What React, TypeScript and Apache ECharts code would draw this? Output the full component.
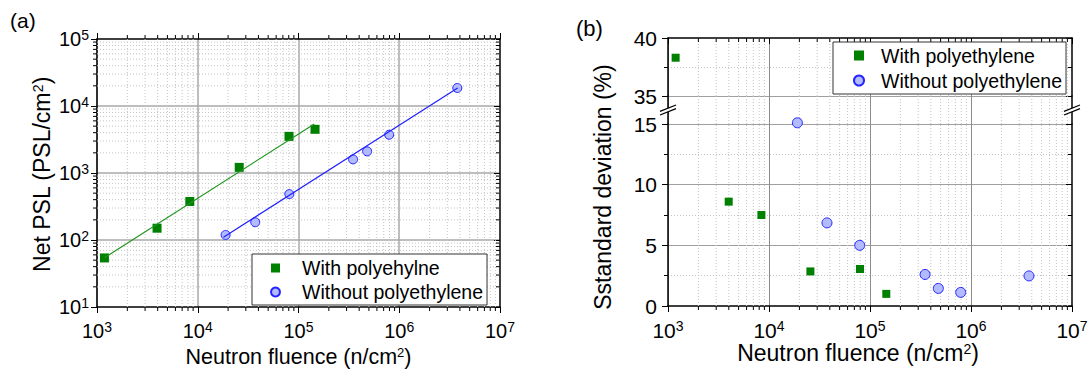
import React, { useEffect, useRef } from 'react';
import * as echarts from 'echarts';

const FONT = '"Liberation Sans", Arial, Helvetica, sans-serif';

// ---------------- Panel (a): Net PSL vs neutron fluence ----------------
const withPolyFluence = [1185, 3945, 8340, 25800, 80500, 145900];
const withPolyPSL = [54, 150, 376, 1213, 3524, 4488];
const withoutPolyFluence = [18900, 37200, 81100, 348000, 480000, 794000, 3770000];
const withoutPolyPSL = [119, 184, 484, 1596, 2104, 3724, 18580];
// fitted lines (end points)
const fitWithFluence = [1185, 143500];
const fitWithPSL = [54.3, 5400];
const fitWithoutFluence = [18000, 3800000];
const fitWithoutPSL = [110, 18600];

// ---------------- Panel (b): standard deviation ----------------
const sdWithFluence = [1190, 3990, 8410, 25700, 79600, 145000];
const sdWith = [38.3, 8.6, 7.5, 2.85, 3.05, 1.0];
const sdWithoutFluence = [19100, 37500, 79100, 351000, 475000, 791000, 3750000];
const sdWithout = [15.1, 6.85, 5.0, 2.6, 1.45, 1.12, 2.48];

// ---------------- axes ----------------
const fluenceRange = [1e3, 1e7];
const pslRange = [10, 1e5];
const sdUpperRange = [35, 40];
const sdLowerRange = [0, 15];
const sdInterval = 5;
const minorMultipliers = [2, 3, 4, 5, 6, 7, 8, 9];

const legendA = ['With polyehylne', 'Without polyethylene'];
const legendB = ['With polyethylene', 'Without polyethylene'];

function zip(xs: number[], ys: number[]) {
  return xs.map((x, i) => [x, ys[i]]);
}

function logMinors(range: number[]) {
  const out: number[] = [];
  const e0 = Math.round(Math.log10(range[0]));
  const e1 = Math.round(Math.log10(range[1]));
  for (let e = e0; e < e1; e++) for (const m of minorMultipliers) out.push(m * Math.pow(10, e));
  return out;
}

const powLabel = (v: number) => `{b|10}{s|${Math.round(Math.log10(v))}}`;

function richFor(size: number) {
  const s = Math.round(size * 0.68);
  return {
    b: { fontSize: size, lineHeight: size + 2, fontFamily: FONT, color: '#000' },
    s: { fontSize: s, lineHeight: s, verticalAlign: 'top', fontFamily: FONT, color: '#000' },
  };
}

type Tick = { end: 0 | 1; d: number };
function minorGridSeries(
  xAxisIndex: number,
  yAxisIndex: number,
  dir: 'v' | 'h',
  values: number[],
  cross: number[],
  ticks: Tick[]
) {
  const data = values.map((v) => (dir === 'v' ? [v, cross[0]] : [cross[0], v]));
  return {
    type: 'custom',
    xAxisIndex,
    yAxisIndex,
    silent: true,
    z: 1,
    clip: false,
    data,
    renderItem: (_params: any, api: any) => {
      const v = api.value(dir === 'v' ? 0 : 1);
      const a = dir === 'v' ? api.coord([v, cross[0]]) : api.coord([cross[0], v]);
      const b = dir === 'v' ? api.coord([v, cross[1]]) : api.coord([cross[1], v]);
      const children: any[] = [
        {
          type: 'line',
          shape: { x1: a[0], y1: a[1], x2: b[0], y2: b[1] },
          style: { stroke: '#c4c4c4', lineWidth: 1, lineDash: [1, 2] },
        },
      ];
      ticks.forEach((t) => {
        const p = t.end === 0 ? a : b;
        const shape =
          dir === 'v'
            ? { x1: p[0], y1: p[1], x2: p[0], y2: p[1] + t.d }
            : { x1: p[0], y1: p[1], x2: p[0] + t.d, y2: p[1] };
        children.push({ type: 'line', shape, style: { stroke: '#000', lineWidth: 1 } });
      });
      return { type: 'group', children };
    },
  };
}

const axisLine = { show: true, onZero: false, lineStyle: { color: '#000', width: 1.5 } };
const majorTick = (inside: boolean) => ({ show: true, inside, length: 6, lineStyle: { color: '#000', width: 1 } });
const noTick = { show: false };
const noLabel = { show: false };
const noSplit = { show: false };

function logAxis(gridIndex: number, range: number[], position: string, extra: any) {
  return {
    gridIndex,
    type: 'log',
    logBase: 10,
    min: range[0],
    max: range[1],
    position,
    axisLine,
    minorTick: { show: false },
    minorSplitLine: { show: false },
    ...extra,
  };
}

function breakMark(cx: number, cy: number) {
  const hx = 8;
  const hy = 3.2;
  const g = 1.8;
  const l1 = [[cx - hx, cy - g + hy], [cx + hx, cy - g - hy]];
  const l2 = [[cx - hx, cy + g + hy], [cx + hx, cy + g - hy]];
  return [
    { type: 'polygon', z: 100, shape: { points: [l1[0], l1[1], l2[1], l2[0]] }, style: { fill: '#fff' } },
    { type: 'line', z: 101, shape: { x1: l1[0][0], y1: l1[0][1], x2: l1[1][0], y2: l1[1][1] }, style: { stroke: '#000', lineWidth: 1.2 } },
    { type: 'line', z: 101, shape: { x1: l2[0][0], y1: l2[0][1], x2: l2[1][0], y2: l2[1][1] }, style: { stroke: '#000', lineWidth: 1.2 } },
  ];
}

function textEl(x: number, y: number, text: string, size: number, rotation = 0, align = 'center') {
  const s = Math.round(size * 0.62);
  return {
    type: 'text',
    x,
    y,
    rotation,
    z: 50,
    style: {
      text,
      fontSize: size,
      fontFamily: FONT,
      fill: '#000',
      align,
      textAlign: align,
      verticalAlign: 'middle',
      textVerticalAlign: 'middle',
      rich: {
        s: { fontSize: s, lineHeight: s, verticalAlign: 'top', fontFamily: FONT, fill: '#000', color: '#000' },
      },
    },
  };
}

function buildOption() {
  const minorsX = logMinors(fluenceRange);
  const minorsY = logMinors(pslRange);
  const majorSplitA = { show: true, showMinLine: false, showMaxLine: false, lineStyle: { color: '#a8a8a8', width: 1.5 } };
  const majorSplitBx = { show: true, showMinLine: false, showMaxLine: false, lineStyle: { color: '#8c8c8c', width: 1 } };
  const minorSplitB = { show: true, lineStyle: { color: '#c4c4c4', width: 1, type: [1, 2] } };
  const minorTickB = { show: true, splitNumber: 2, length: 4, lineStyle: { color: '#000', width: 1 } };
  const valLabelB = { show: true, fontSize: 21, fontFamily: FONT, color: '#000', margin: 11, showMinLabel: true, showMaxLabel: true };

  const upperWith = zip(sdWithFluence, sdWith).filter((p) => p[1] >= sdUpperRange[0]);
  const lowerWith = zip(sdWithFluence, sdWith).filter((p) => p[1] < sdUpperRange[0]);
  const lowerWithout = zip(sdWithoutFluence, sdWithout).filter((p) => p[1] < sdUpperRange[0]);

  const greenSq = { color: '#008000', opacity: 1 };
  const blueCirc = { color: '#b3bbff', borderColor: '#2424ff', borderWidth: 1, opacity: 1 };

  return {
    animation: false,
    backgroundColor: '#fff',
    textStyle: { fontFamily: FONT },
    grid: [
      { left: 97, top: 39, width: 403, height: 268, containLabel: false, outerBoundsMode: 'none' },
      { left: 668, top: 38, width: 404, height: 58, containLabel: false, outerBoundsMode: 'none' },
      { left: 668, top: 96, width: 404, height: 28, containLabel: false, outerBoundsMode: 'none' },
      { left: 668, top: 124, width: 404, height: 182, containLabel: false, outerBoundsMode: 'none' },
    ],
    xAxis: [
      logAxis(0, fluenceRange, 'bottom', {
        axisTick: majorTick(false),
        axisLabel: { show: true, margin: 13, formatter: powLabel, rich: richFor(20), showMinLabel: true, showMaxLabel: true },
        splitLine: majorSplitA,
      }),
      logAxis(0, fluenceRange, 'top', { axisTick: majorTick(false), axisLabel: noLabel, splitLine: noSplit }),
      logAxis(1, fluenceRange, 'top', { axisTick: majorTick(true), axisLabel: noLabel, splitLine: majorSplitBx }),
      logAxis(2, fluenceRange, 'bottom', { axisLine: { show: false }, axisTick: noTick, axisLabel: noLabel, splitLine: majorSplitBx }),
      logAxis(3, fluenceRange, 'bottom', {
        axisTick: majorTick(false),
        axisLabel: { show: true, margin: 13, formatter: powLabel, rich: richFor(21), showMinLabel: true, showMaxLabel: true },
        splitLine: majorSplitBx,
      }),
    ],
    yAxis: [
      logAxis(0, pslRange, 'left', {
        axisTick: majorTick(false),
        axisLabel: { show: true, margin: 8, formatter: powLabel, rich: richFor(20), showMinLabel: true, showMaxLabel: true },
        splitLine: majorSplitA,
      }),
      logAxis(0, pslRange, 'right', { axisTick: majorTick(true), axisLabel: noLabel, splitLine: noSplit }),
      {
        gridIndex: 1, type: 'value', min: sdUpperRange[0], max: sdUpperRange[1], interval: sdInterval, position: 'left',
        axisLine, axisTick: majorTick(false), minorTick: minorTickB, axisLabel: valLabelB,
        splitLine: { show: true, showMinLine: true, showMaxLine: false, lineStyle: { color: '#a0a0a0', width: 1.2 } },
        minorSplitLine: minorSplitB,
      },
      {
        gridIndex: 1, type: 'value', min: sdUpperRange[0], max: sdUpperRange[1], interval: sdInterval, position: 'right',
        axisLine, axisTick: majorTick(true), minorTick: minorTickB, axisLabel: noLabel, splitLine: noSplit, minorSplitLine: noSplit,
      },
      { gridIndex: 2, type: 'value', min: 0, max: 1, position: 'left', axisLine, axisTick: noTick, axisLabel: noLabel, splitLine: noSplit },
      { gridIndex: 2, type: 'value', min: 0, max: 1, position: 'right', axisLine, axisTick: noTick, axisLabel: noLabel, splitLine: noSplit },
      {
        gridIndex: 3, type: 'value', min: sdLowerRange[0], max: sdLowerRange[1], interval: sdInterval, position: 'left',
        axisLine, axisTick: majorTick(false), minorTick: minorTickB, axisLabel: valLabelB,
        splitLine: { show: true, showMinLine: false, showMaxLine: true, lineStyle: { color: '#a0a0a0', width: 1.2 } },
        minorSplitLine: minorSplitB,
      },
      {
        gridIndex: 3, type: 'value', min: sdLowerRange[0], max: sdLowerRange[1], interval: sdInterval, position: 'right',
        axisLine, axisTick: majorTick(true), minorTick: minorTickB, axisLabel: noLabel, splitLine: noSplit, minorSplitLine: noSplit,
      },
    ],
    legend: [
      {
        orient: 'vertical', left: 252, top: 254, padding: [2, 4, 1, 18], itemGap: 0, itemWidth: 9, itemHeight: 9,
        borderColor: '#333', borderWidth: 1, backgroundColor: '#fff', selectedMode: false, z: 10,
        textStyle: { fontSize: 19.5, fontFamily: FONT, color: '#000', lineHeight: 24, padding: [0, 0, 0, 17] },
        data: [{ name: legendA[0], icon: 'rect' }, { name: legendA[1], icon: 'circle' }],
      },
      {
        orient: 'vertical', left: 833, top: 42, padding: [1, 4, 1, 20], itemGap: 0, itemWidth: 10, itemHeight: 10,
        borderColor: '#333', borderWidth: 1, backgroundColor: '#fff', selectedMode: false, z: 10,
        textStyle: { fontSize: 19.5, fontFamily: FONT, color: '#000', lineHeight: 25, padding: [0, 0, 0, 12] },
        data: [{ name: legendB[0], icon: 'rect' }, { name: legendB[1], icon: 'circle' }],
      },
    ],
    series: [
      minorGridSeries(0, 0, 'v', minorsX, pslRange, [{ end: 0, d: 4 }, { end: 1, d: -4 }]),
      minorGridSeries(0, 0, 'h', minorsY, fluenceRange, [{ end: 0, d: -4 }, { end: 1, d: -4 }]),
      minorGridSeries(2, 2, 'v', minorsX, sdUpperRange, [{ end: 1, d: 4 }]),
      minorGridSeries(3, 4, 'v', minorsX, [0, 1], []),
      minorGridSeries(4, 6, 'v', minorsX, sdLowerRange, [{ end: 0, d: 4 }]),
      {
        name: legendA[0], type: 'scatter', xAxisIndex: 0, yAxisIndex: 0, symbol: 'rect', symbolSize: 9,
        itemStyle: greenSq, z: 3, data: zip(withPolyFluence, withPolyPSL),
      },
      {
        name: legendA[1], type: 'scatter', xAxisIndex: 0, yAxisIndex: 0, symbol: 'circle', symbolSize: 9,
        itemStyle: blueCirc, z: 3, data: zip(withoutPolyFluence, withoutPolyPSL),
      },
      {
        name: 'fit with', type: 'line', xAxisIndex: 0, yAxisIndex: 0, symbol: 'none', showSymbol: false, z: 4,
        lineStyle: { color: '#1e961e', width: 1.2 }, data: zip(fitWithFluence, fitWithPSL),
      },
      {
        name: 'fit without', type: 'line', xAxisIndex: 0, yAxisIndex: 0, symbol: 'none', showSymbol: false, z: 4,
        lineStyle: { color: '#2020ff', width: 1.2 }, data: zip(fitWithoutFluence, fitWithoutPSL),
      },
      {
        name: legendB[0], type: 'scatter', xAxisIndex: 2, yAxisIndex: 2, symbol: 'rect', symbolSize: 8,
        itemStyle: greenSq, z: 3, clip: false, data: upperWith,
      },
      {
        name: legendB[0], type: 'scatter', xAxisIndex: 4, yAxisIndex: 6, symbol: 'rect', symbolSize: 8,
        itemStyle: greenSq, z: 3, clip: false, data: lowerWith,
      },
      {
        name: legendB[1], type: 'scatter', xAxisIndex: 4, yAxisIndex: 6, symbol: 'circle', symbolSize: 10,
        itemStyle: blueCirc, z: 3, clip: false, data: lowerWithout,
      },
    ],
    graphic: [
      textEl(10, 20, '(a)', 21, 0, 'left'),
      textEl(576, 28.5, '(b)', 22, 0, 'left'),
      textEl(298.5, 357, 'Neutron fluence (n/cm{s|2})', 21.5),
      textEl(858, 353, 'Neutron fluence (n/cm{s|2})', 23),
      textEl(42, 174.5, 'Net PSL (PSL/cm{s|2})', 23, Math.PI / 2),
      textEl(603, 187, 'Sstandard deviation (%)', 23, Math.PI / 2),
      ...breakMark(668, 110),
      ...breakMark(1072, 110),
    ],
  };
}

export default function App() {
  const ref = useRef<HTMLDivElement>(null);
  useEffect(() => {
    document.body.style.margin = '0';
    if (!ref.current) return;
    const chart = echarts.init(ref.current, null, { renderer: 'svg' });
    chart.setOption(buildOption() as any);
    return () => chart.dispose();
  }, []);
  return <div ref={ref} style={{ width: 1088, height: 369 }} />;
}
